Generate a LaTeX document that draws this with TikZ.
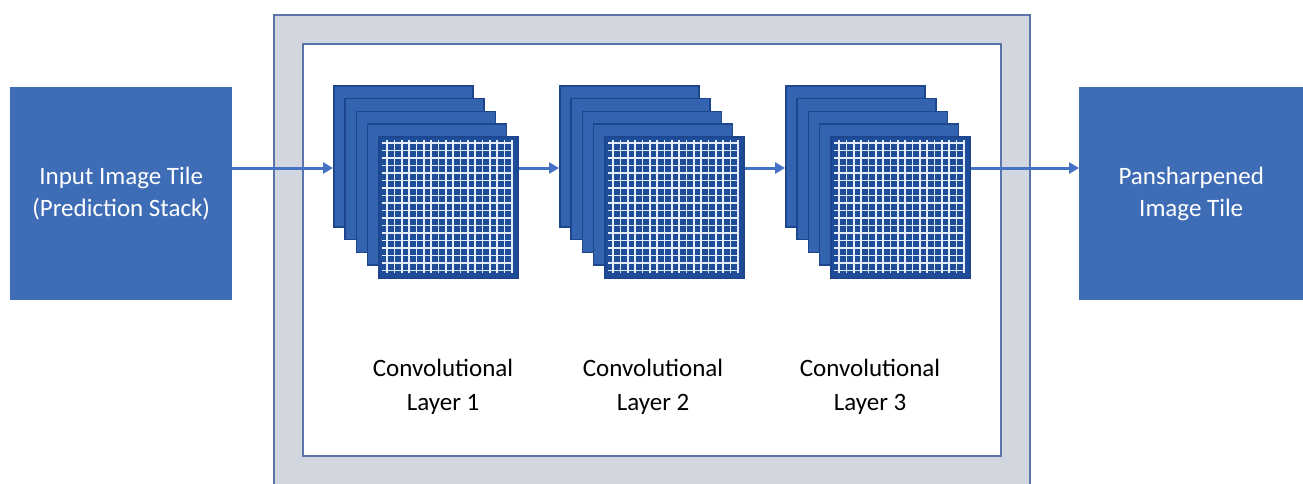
\documentclass[tikz,border=0pt]{standalone}
\usepackage{fontspec}
\setmainfont{Carlito}
\usetikzlibrary{arrows.meta}
\definecolor{boxblue}{HTML}{3F6DB5}
\definecolor{sheetblue}{HTML}{3464B0}
\definecolor{sheetedge}{HTML}{1E468F}
\definecolor{frontblue}{HTML}{1F4C99}
\definecolor{gridwhite}{HTML}{E6EDF8}
\definecolor{framegray}{HTML}{D2D6DE}
\definecolor{frameedge}{HTML}{5A73A8}
\definecolor{arrowblue}{HTML}{4472C4}
\begin{document}
\begin{tikzpicture}[x=1pt,y=-1pt,
  tile/.style={draw=none, fill=boxblue, text=white, align=center,
    font=\fontsize{25}{32}\selectfont, inner sep=0, anchor=north west},
  sheet/.style={draw=sheetedge, line width=1.5pt, fill=sheetblue,
    minimum width=139pt, minimum height=141pt, inner sep=0, anchor=north west},
  frontsheet/.style={sheet, fill=frontblue},
  gridline/.style={draw=gridwhite, line width=1.7pt},
  framebox/.style={draw=frameedge, line width=1.5pt, inner sep=0, anchor=north west},
  lbl/.style={align=center, font=\fontsize{25}{34}\selectfont, text=black},
  flow/.style={draw=arrowblue, line width=3pt, -{Triangle[length=10pt,width=11pt]}},
]
\useasboundingbox (0,0) rectangle (1303,483);
\clip (0,0) rectangle (1303,483);
% frame
\node[framebox, fill=framegray, minimum width=756pt, minimum height=480pt] (outer) at (273,14) {};
\node[framebox, fill=white, minimum width=698pt, minimum height=412pt] (inner) at (302,43) {};
% input / output
\node[tile, minimum width=222pt, minimum height=213pt] (in) at (10,87) {Input Image Tile\\(Prediction Stack)};
\node[tile, minimum width=224pt, minimum height=213pt] (out) at (1079,87) {Pansharpened\\Image Tile};
% stacks
\foreach \k/\dx in {1/0,2/226,3/452}{
  \foreach \s/\n in {0/a,1/b,2/c,3/d}{
    \node[sheet] (s\k\n) at (333+\dx+11.25*\s, 85+12.75*\s) {};
  }
  \node[frontsheet] (s\k e) at (378+\dx,136) {};
  \foreach \i in {0,...,17}{
    \draw[gridline] (387+\dx+7.35*\i,140) -- (387+\dx+7.35*\i,273);
    \draw[gridline] (382+\dx,143+7.5*\i) -- (513+\dx,143+7.5*\i);
  }
}
% labels
\node[lbl] (l1) at (443,387) {Convolutional\\Layer 1};
\node[lbl] (l2) at (653,387) {Convolutional\\Layer 2};
\node[lbl] (l3) at (870,387) {Convolutional\\Layer 3};
% arrows
\coordinate (ay) at (0,168);
\draw[flow] (in.east |- ay) -- (s1a.west |- ay);
\draw[flow] (s1e.east |- ay) -- (s2a.west |- ay);
\draw[flow] (s2e.east |- ay) -- (s3a.west |- ay);
\draw[flow] (s3e.east |- ay) -- (out.west |- ay);
\end{tikzpicture}
\end{document}
